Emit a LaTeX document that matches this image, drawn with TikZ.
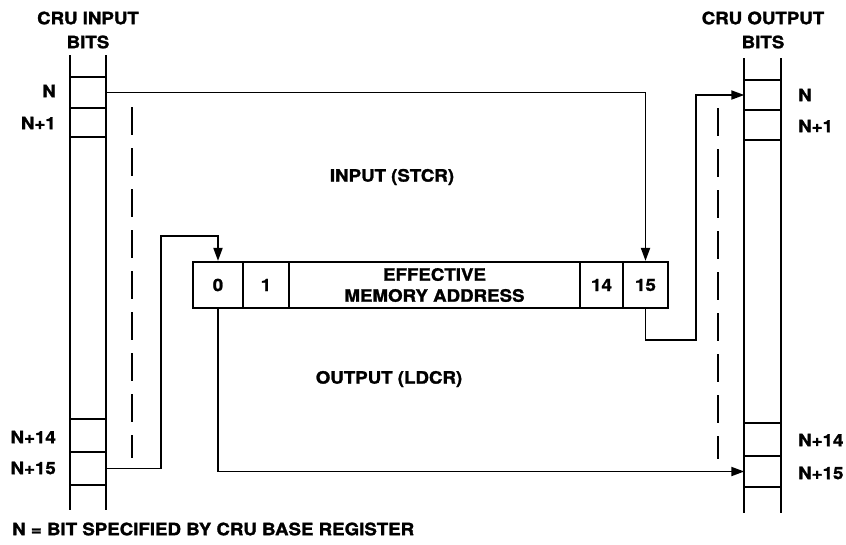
\documentclass[tikz,border=0pt]{standalone}
\usepackage{fontspec}
\setmainfont{TeX Gyre Heros}[FakeStretch=1.1,FakeBold=1.5]
\usetikzlibrary{arrows.meta}
\begin{document}
\begin{tikzpicture}[x=1pt,y=-1pt,
  txt/.style={font=\bfseries\fontsize{17}{24}\selectfont, inner sep=0pt, align=center},
  colline/.style={line width=2.6pt},
  wire/.style={line width=1.9pt},
  arr/.style={wire,-{Triangle[length=13pt,width=9pt]}},
  dashln/.style={line width=1.9pt, dash pattern=on 28pt off 13pt},
  regcell/.style={draw, line width=2.2pt, minimum height=46pt, inner sep=0pt,
    font=\bfseries\fontsize{17}{21}\selectfont, align=center},
  bitcell/.style={minimum width=36pt, inner sep=0pt}
]
\useasboundingbox (0,0) rectangle (846,544);

% ---- left column (CRU input bits)
\draw[colline] (70,55) -- (70,510);
\draw[colline] (106,55) -- (106,510);
\foreach \yy in {77,108,137,419,452,485}
  \draw[colline] (70,\yy) -- (106,\yy);
\node[bitcell, minimum height=31pt] (inN) at (88,92.5) {};
\node[bitcell, minimum height=29pt] (inN1) at (88,122.5) {};
\node[bitcell, minimum height=33pt] (in14) at (88,435.5) {};
\node[bitcell, minimum height=33pt] (in15) at (88,468.5) {};

% ---- right column (CRU output bits)
\draw[colline] (744,58) -- (744,513);
\draw[colline] (781,58) -- (781,513);
\foreach \yy in {80,110,140,423,456,487}
  \draw[colline] (744,\yy) -- (781,\yy);
\node[bitcell, minimum height=30pt] (outN) at (762.5,95) {};
\node[bitcell, minimum height=30pt] (outN1) at (762.5,125) {};
\node[bitcell, minimum height=33pt] (out14) at (762.5,439.5) {};
\node[bitcell, minimum height=31pt] (out15) at (762.5,471.5) {};

% ---- headers
\node[txt] (hin) at (88,30) {CRU INPUT\\BITS};
\node[txt] (hout) at (763,30) {CRU OUTPUT\\BITS};

% ---- bit labels
\node[txt, anchor=east] (lN) at (56,91) {N};
\node[txt, anchor=east] (lN1) at (56,123) {N+1};
\node[txt, anchor=east] (lN14) at (56,437) {N+14};
\node[txt, anchor=east] (lN15) at (56,468) {N+15};
\node[txt, anchor=west] (rN) at (798,95) {N};
\node[txt, anchor=west] (rN1) at (798,126) {N+1};
\node[txt, anchor=west] (rN14) at (798,440) {N+14};
\node[txt, anchor=west] (rN15) at (798,473) {N+15};

% ---- register
\node[regcell, minimum width=50pt] (r0) at (218,285) {0};
\node[regcell, minimum width=46pt] (r1) at (266,285) {1};
\node[regcell, minimum width=291pt] (rea) at (434.5,285) {EFFECTIVE\\MEMORY ADDRESS};
\node[regcell, minimum width=43pt] (r14) at (601.5,285) {14};
\node[regcell, minimum width=45pt] (r15) at (645.5,285) {15};

% ---- flow labels
\node[txt] (lin) at (392,177) {INPUT (STCR)};
\node[txt] (lout) at (389,379) {OUTPUT (LDCR)};

% ---- connectors
\coordinate (k1) at (161,236);
\coordinate (k2) at (696,340);
\draw[arr] (inN.east) -| (r15.north);
\draw[arr] (in15.east) -| (k1) -| (r0.north);
\draw[arr] (r0.south) |- (out15.west);
\draw[arr] (r15.south) |- (k2) |- (outN.west);

% ---- dashed lines
\coordinate (d1a) at (132,107);
\coordinate (d1b) at (132,458);
\coordinate (d2a) at (718,108);
\coordinate (d2b) at (718,459);
\draw[dashln] (d1a) -- (d1b);
\draw[dashln] (d2a) -- (d2b);

% ---- footnote
\node[txt, anchor=west] (foot) at (12,529) {N = BIT SPECIFIED BY CRU BASE REGISTER};
\end{tikzpicture}
\end{document}
